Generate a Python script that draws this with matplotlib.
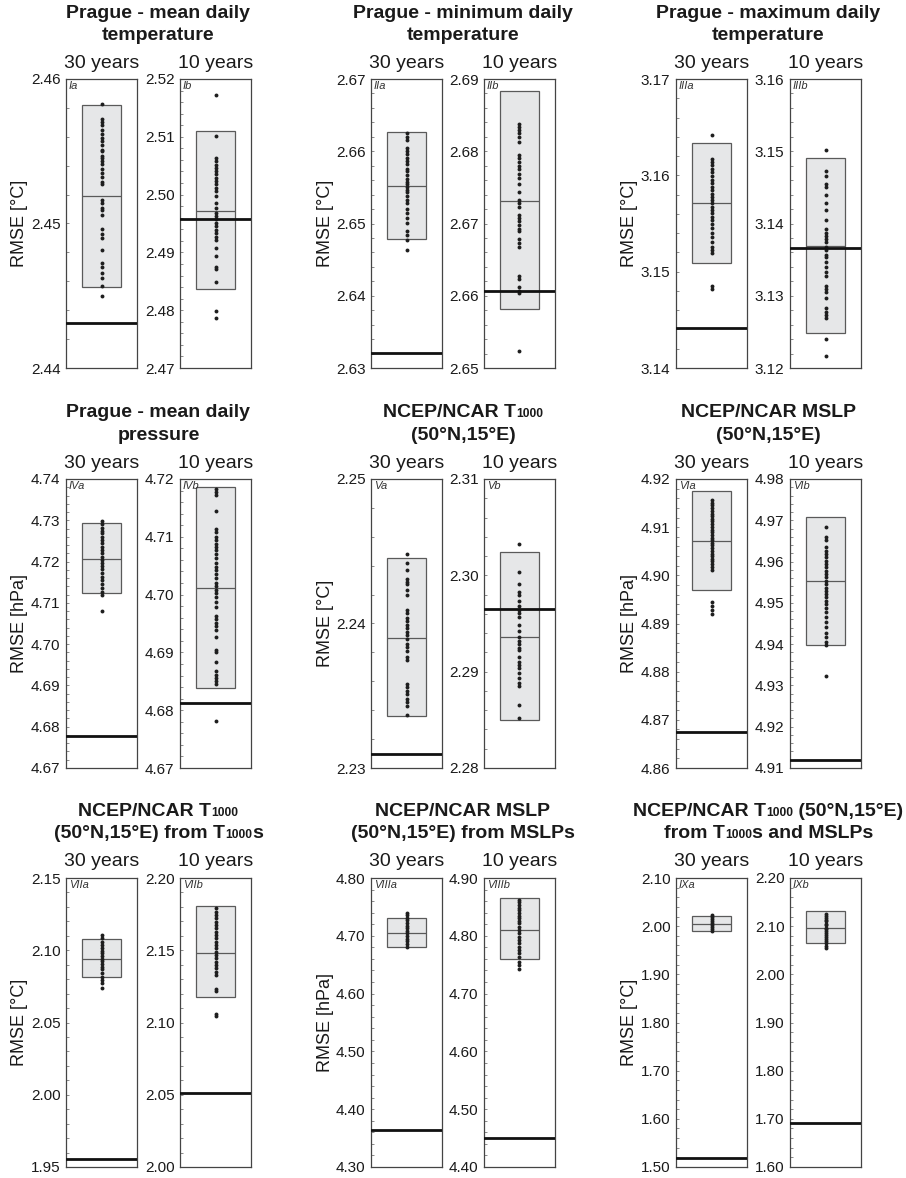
"""
RMSE boxes for the 30-year and 10-year runs of each downscaled series
"""
import re
import matplotlib
matplotlib.use('Agg')
import matplotlib.pyplot as plt
import numpy as np
from matplotlib.ticker import FixedLocator, MultipleLocator, FormatStrFormatter
from matplotlib.offsetbox import TextArea, HPacker, AnnotationBbox

plt.rcParams['font.family'] = ['Liberation Sans', 'DejaVu Sans']

# ---- data -------------------------------------------------------------
group_titles = [
    ["Prague - mean daily", "temperature"],
    ["Prague - minimum daily", "temperature"],
    ["Prague - maximum daily", "temperature"],
    ["Prague - mean daily", "pressure"],
    ["NCEP/NCAR T{1000}", "(50°N,15°E)"],
    ["NCEP/NCAR MSLP", "(50°N,15°E)"],
    ["NCEP/NCAR T{1000}", "(50°N,15°E) from T{1000}s"],
    ["NCEP/NCAR MSLP", "(50°N,15°E) from MSLPs"],
    ["NCEP/NCAR T{1000} (50°N,15°E)", "from T{1000}s and MSLPs"],
]
group_units = ["°C", "°C", "°C", "hPa", "°C", "hPa", "°C", "hPa", "°C"]
period_labels = ["30 years", "10 years"]

panel_ids = ["Ia", "Ib", "IIa", "IIb", "IIIa", "IIIb",
             "IVa", "IVb", "Va", "Vb", "VIa", "VIb",
             "VIIa", "VIIb", "VIIIa", "VIIIb", "IXa", "IXb"]

# box: lower quartile, upper quartile, median; plus the reference RMSE
box_lo = [2.4456, 2.4837, 2.6479, 2.6581, 3.1509, 3.1249,
          4.7123, 4.6838, 2.2336, 2.2850, 4.8969, 4.9398,
          2.0817, 2.1175, 4.6799, 4.7592, 1.9903, 2.0641]
box_hi = [2.4582, 2.5110, 2.6627, 2.6883, 3.1634, 3.1491,
          4.7294, 4.7186, 2.2445, 2.3024, 4.9175, 4.9708,
          2.1075, 2.1807, 4.7310, 4.8655, 2.0207, 2.1310]
box_med = [2.4519, 2.4972, 2.6552, 2.6731, 3.1571, 3.1369,
           4.7206, 4.7012, 2.2390, 2.2936, 4.9071, 4.9553,
           2.0941, 2.1483, 4.7046, 4.8103, 2.0055, 2.0966]
ref_val = [2.4431, 2.4958, 2.6321, 2.6607, 3.1442, 3.1366,
           4.6778, 4.6812, 2.2310, 2.2965, 4.8675, 4.9119,
           1.9553, 2.0513, 4.3638, 4.4500, 1.5179, 1.6917]

# axis range: (min, max, major step, minor step)
y_ranges = [(2.44, 2.46, 0.01, 0.002), (2.47, 2.52, 0.01, 0.002),
            (2.63, 2.67, 0.01, 0.002), (2.65, 2.69, 0.01, 0.002),
            (3.14, 3.17, 0.01, 0.002), (3.12, 3.16, 0.01, 0.002),
            (4.67, 4.74, 0.01, 0.002), (4.67, 4.72, 0.01, 0.002),
            (2.23, 2.25, 0.01, 0.002), (2.28, 2.31, 0.01, 0.002),
            (4.86, 4.92, 0.01, 0.002), (4.91, 4.98, 0.01, 0.002),
            (1.95, 2.15, 0.05, 0.01), (2.00, 2.20, 0.05, 0.01),
            (4.30, 4.80, 0.10, 0.02), (4.40, 4.90, 0.10, 0.02),
            (1.50, 2.10, 0.10, 0.02), (1.60, 2.20, 0.10, 0.02)]

# individual ensemble members
dots_Ia = [2.4583, 2.4572, 2.4570, 2.4568, 2.4565, 2.4562, 2.4559, 2.4557,
           2.4554, 2.4551, 2.4550, 2.4547, 2.4545, 2.4543, 2.4541, 2.4538,
           2.4535, 2.4532, 2.4529, 2.4527, 2.4516, 2.4514, 2.4511, 2.4509,
           2.4506, 2.4496, 2.4493, 2.4490, 2.4482, 2.4473, 2.4470, 2.4466,
           2.4462, 2.4457, 2.4450]
dots_Ib = [2.5172, 2.5102, 2.5064, 2.5058, 2.5052, 2.5046, 2.5041, 2.5035,
           2.5029, 2.5023, 2.5018, 2.5012, 2.5006, 2.4997, 2.4985, 2.4977,
           2.4969, 2.4963, 2.4957, 2.4951, 2.4946, 2.4939, 2.4933, 2.4926,
           2.4922, 2.4908, 2.4894, 2.4875, 2.4871, 2.4848, 2.4799, 2.4787]
dots_IIa = [2.6625, 2.6620, 2.6615, 2.6605, 2.6600, 2.6596, 2.6591, 2.6586,
            2.6582, 2.6576, 2.6572, 2.6567, 2.6562, 2.6558, 2.6554, 2.6550,
            2.6547, 2.6543, 2.6538, 2.6532, 2.6528, 2.6520, 2.6514, 2.6507,
            2.6501, 2.6490, 2.6484, 2.6477, 2.6463]
dots_IIb = [2.6838, 2.6834, 2.6829, 2.6825, 2.6820, 2.6813, 2.6795, 2.6790,
            2.6785, 2.6780, 2.6775, 2.6769, 2.6763, 2.6755, 2.6744, 2.6733,
            2.6729, 2.6723, 2.6712, 2.6707, 2.6703, 2.6698, 2.6693, 2.6689,
            2.6678, 2.6673, 2.6667, 2.6628, 2.6623, 2.6612, 2.6607, 2.6604,
            2.6524]
dots_IIIa = [3.1642, 3.1617, 3.1614, 3.1611, 3.1607, 3.1603, 3.1599, 3.1595,
             3.1592, 3.1588, 3.1585, 3.1581, 3.1578, 3.1574, 3.1571, 3.1567,
             3.1564, 3.1561, 3.1557, 3.1554, 3.1550, 3.1545, 3.1540, 3.1536,
             3.1531, 3.1526, 3.1523, 3.1519, 3.1485, 3.1482]
dots_IIIb = [3.1502, 3.1473, 3.1466, 3.1455, 3.1451, 3.1439, 3.1429, 3.1419,
             3.1405, 3.1392, 3.1387, 3.1383, 3.1378, 3.1374, 3.1368, 3.1363,
             3.1357, 3.1353, 3.1347, 3.1340, 3.1333, 3.1327, 3.1314, 3.1309,
             3.1305, 3.1297, 3.1283, 3.1278, 3.1274, 3.1269, 3.1240, 3.1217]
dots_IVa = [4.7299, 4.7290, 4.7282, 4.7274, 4.7268, 4.7260, 4.7252, 4.7244,
            4.7236, 4.7228, 4.7220, 4.7212, 4.7203, 4.7197, 4.7189, 4.7181,
            4.7173, 4.7163, 4.7155, 4.7145, 4.7135, 4.7127, 4.7119, 4.7081]
dots_IVb = [4.7183, 4.7178, 4.7172, 4.7145, 4.7114, 4.7109, 4.7100, 4.7094,
            4.7088, 4.7083, 4.7077, 4.7071, 4.7064, 4.7055, 4.7048, 4.7042,
            4.7035, 4.7028, 4.7020, 4.7015, 4.7008, 4.7002, 4.6995, 4.6988,
            4.6979, 4.6963, 4.6957, 4.6951, 4.6945, 4.6939, 4.6927, 4.6905,
            4.6900, 4.6884, 4.6867, 4.6861, 4.6855, 4.6850, 4.6846, 4.6781]
dots_Va = [2.2448, 2.2442, 2.2437, 2.2431, 2.2429, 2.2427, 2.2423, 2.2420,
           2.2409, 2.2407, 2.2404, 2.2402, 2.2399, 2.2397, 2.2394, 2.2392,
           2.2389, 2.2386, 2.2384, 2.2381, 2.2377, 2.2375, 2.2358, 2.2356,
           2.2353, 2.2351, 2.2348, 2.2346, 2.2343, 2.2337]
dots_Vb = [2.3033, 2.3003, 2.2991, 2.2983, 2.2980, 2.2973, 2.2968, 2.2964,
           2.2961, 2.2957, 2.2948, 2.2942, 2.2936, 2.2932, 2.2929, 2.2925,
           2.2922, 2.2915, 2.2910, 2.2907, 2.2904, 2.2899, 2.2893, 2.2888,
           2.2885, 2.2865, 2.2852]
dots_VIa = [4.9156, 4.9150, 4.9145, 4.9139, 4.9134, 4.9128, 4.9123, 4.9117,
            4.9112, 4.9106, 4.9101, 4.9095, 4.9090, 4.9084, 4.9078, 4.9073,
            4.9067, 4.9062, 4.9056, 4.9051, 4.9045, 4.9040, 4.9034, 4.9029,
            4.9023, 4.9018, 4.9011, 4.8945, 4.8936, 4.8928, 4.8920]
dots_VIb = [4.9684, 4.9660, 4.9652, 4.9636, 4.9626, 4.9618, 4.9610, 4.9602,
            4.9594, 4.9586, 4.9578, 4.9570, 4.9562, 4.9554, 4.9545, 4.9537,
            4.9529, 4.9521, 4.9513, 4.9505, 4.9497, 4.9487, 4.9477, 4.9465,
            4.9454, 4.9442, 4.9426, 4.9417, 4.9406, 4.9398, 4.9322]
dots_VIIa = [2.1105, 2.1082, 2.1059, 2.1036, 2.1013, 2.0997, 2.0978, 2.0960,
             2.0941, 2.0923, 2.0905, 2.0886, 2.0868, 2.0845, 2.0817, 2.0794,
             2.0771, 2.0737]
dots_VIIb = [2.1789, 2.1766, 2.1743, 2.1720, 2.1697, 2.1674, 2.1651, 2.1628,
             2.1605, 2.1582, 2.1559, 2.1536, 2.1513, 2.1490, 2.1467, 2.1444,
             2.1421, 2.1398, 2.1375, 2.1352, 2.1329, 2.1230, 2.1221, 2.1060,
             2.1048]
dots_VIIIa = [4.7397, 4.7356, 4.7316, 4.7270, 4.7224, 4.7178, 4.7132, 4.7086,
              4.7040, 4.6994, 4.6948, 4.6902, 4.6856, 4.6810]
dots_VIIIb = [4.8626, 4.8580, 4.8534, 4.8489, 4.8443, 4.8397, 4.8351, 4.8305,
              4.8259, 4.8213, 4.8155, 4.8098, 4.8040, 4.7983, 4.7925, 4.7868,
              4.7810, 4.7753, 4.7695, 4.7638, 4.7552, 4.7494, 4.7420]
dots_IXa = [2.0228, 2.0186, 2.0145, 2.0103, 2.0062, 2.0021, 1.9979, 1.9938,
            1.9903]
dots_IXb = [2.1262, 2.1221, 2.1179, 2.1138, 2.1097, 2.1055, 2.1014, 2.0972,
            2.0931, 2.0890, 2.0848, 2.0807, 2.0766, 2.0724, 2.0683, 2.0641,
            2.0586, 2.0538]

dots = [dots_Ia, dots_Ib, dots_IIa, dots_IIb, dots_IIIa, dots_IIIb,
        dots_IVa, dots_IVb, dots_Va, dots_Vb, dots_VIa, dots_VIb,
        dots_VIIa, dots_VIIb, dots_VIIIa, dots_VIIIb, dots_IXa, dots_IXb]

# ---- layout (pixels) --------------------------------------------------
W, H = 906, 1178
col_left = [66, 180, 371, 484, 676, 790]
row_top = [79, 479, 878]
panel_w, panel_h = 71, 289

BOX_FILL = '#e6e7e8'
BOX_EDGE = '#5a5a5a'
FRAME = '#444444'


def fx(x):
    return x / W


def fy(y):
    return 1 - y / H


def title_line(fig, text, x, y, size):
    # parts in braces are drawn smaller on the same baseline (T1000 etc.)
    parts = [p for p in re.split(r'(\{[^}]*\})', text) if p]
    boxes = []
    for p in parts:
        if p.startswith('{'):
            boxes.append(TextArea(p[1:-1], textprops=dict(
                fontsize=size * 0.62, fontweight='bold', color='#1a1a1a')))
        else:
            boxes.append(TextArea(p, textprops=dict(
                fontsize=size, fontweight='bold', color='#1a1a1a')))
    pack = HPacker(children=boxes, align='baseline', pad=0, sep=0)
    ab = AnnotationBbox(pack, (fx(x), fy(y)), xycoords='figure fraction',
                        frameon=False, box_alignment=(0.5, 0.5), pad=0)
    fig.add_artist(ab)


fig = plt.figure(figsize=(W / 100, H / 100), dpi=100)

for g in range(9):
    row, col = g // 3, g % 3
    top = row_top[row]
    lefts = [col_left[2 * col], col_left[2 * col + 1]]
    xc = (lefts[0] + lefts[1] + panel_w) / 2

    title_line(fig, group_titles[g][0], xc, top - 66, 14)
    title_line(fig, group_titles[g][1], xc, top - 44, 14)

    fig.text(fx(lefts[0] - 46), fy(top + panel_h / 2),
             f"RMSE [{group_units[g]}]", rotation=90,
             ha='center', va='center', fontsize=13, color='#1a1a1a')

    for k in range(2):
        i = 2 * g + k
        left = lefts[k]
        ax = fig.add_axes([fx(left), fy(top + panel_h),
                           panel_w / W, panel_h / H])

        fig.text(fx(left + panel_w / 2), fy(top - 16), period_labels[k],
                 ha='center', va='center', fontsize=14, color='#1a1a1a')

        lo, hi, step, minor = y_ranges[i]
        ax.set_xlim(0, 1)
        ax.set_ylim(lo, hi)

        # interquartile box and median
        ax.bar(0.5, box_hi[i] - box_lo[i], bottom=box_lo[i], width=0.56,
               color=BOX_FILL, edgecolor=BOX_EDGE, linewidth=0.9, zorder=1)
        ax.hlines(box_med[i], 0.22, 0.78, color=BOX_EDGE, linewidth=0.9,
                  zorder=2)
        # members
        ax.plot(np.full(len(dots[i]), 0.5), dots[i], 'o', color='#1e1e1e',
                markersize=2.8, markeredgewidth=0, zorder=3)
        # reference RMSE
        ax.axhline(ref_val[i], color='#111111', linewidth=2.0, zorder=4)

        ax.text(0.04, 0.992, panel_ids[i], transform=ax.transAxes,
                ha='left', va='top', fontsize=8, style='italic',
                color='#333333')

        majors = np.round(np.arange(lo, hi + step / 2, step), 3)
        ax.yaxis.set_major_locator(FixedLocator(majors))
        ax.yaxis.set_minor_locator(MultipleLocator(minor))
        ax.yaxis.set_major_formatter(FormatStrFormatter('%.2f'))
        ax.tick_params(axis='y', which='both', direction='in', length=2,
                       width=0.6, color='#777777', labelsize=11, pad=4,
                       labelcolor='#1a1a1a')
        ax.set_xticks([])
        for s in ax.spines.values():
            s.set_color(FRAME)
            s.set_linewidth(0.9)

fig.savefig('out.png', dpi=100)
plt.close(fig)
